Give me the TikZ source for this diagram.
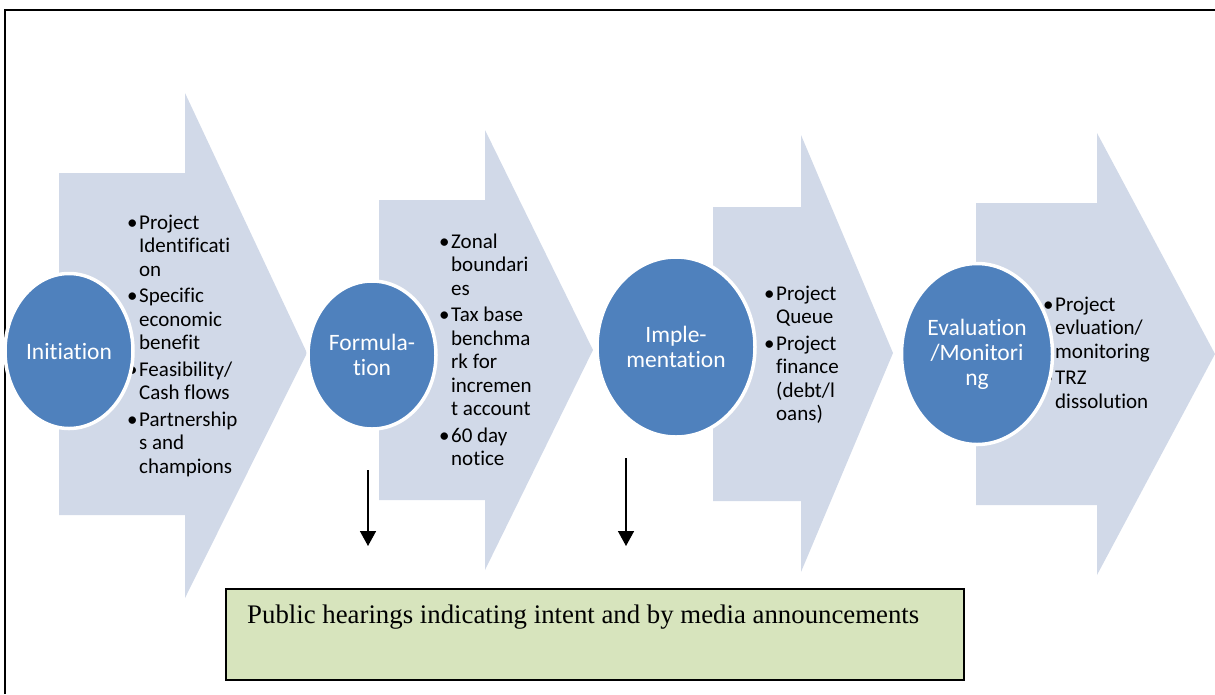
\documentclass[tikz,border=0pt]{standalone}
\usepackage{fontspec}
\setmainfont{Carlito}[Ligatures={NoCommon}]
\newfontfamily\hearfont{Liberation Serif}
\usetikzlibrary{shapes.geometric,arrows.meta}
\definecolor{arrowfill}{RGB}{209,217,232}
\definecolor{stageblue}{RGB}{79,129,189}
\definecolor{hearfill}{RGB}{215,228,189}
\tikzset{
  chevron/.style={fill=arrowfill, draw=none},
  stage/.style={ellipse, fill=stageblue, draw=white, line width=3.5pt, text=white,
    font=\fontsize{23.5}{25}\selectfont, align=center, inner sep=0pt},
  bullets/.style={anchor=north west, inner sep=0pt, font=\fontsize{21}{23.5}\selectfont},
  downarrow/.style={-{Triangle[length=15pt,width=16pt]}, line width=1.6pt},
  frame/.style={line width=2pt},
  hearbox/.style={draw=black, line width=1.6pt, fill=hearfill, inner sep=0pt,
    minimum width=738pt, minimum height=91pt, anchor=north west},
}
\newcommand{\bl}{\textbullet}
\begin{document}
\begin{tikzpicture}[x=1pt,y=-1pt]
\useasboundingbox (0,0) rectangle (1215,694);
% frame
\coordinate (fr1) at (5,694);
\coordinate (fr2) at (5,10);
\coordinate (fr3) at (1215,10);
\draw[frame] (fr1) -- (fr2) -- (fr3);
% chevrons
\fill[chevron] (59,173) -- (185,173) -- (185,93) -- (307,353) -- (185,598) -- (185,515) -- (59,515) -- cycle;
\fill[chevron] (379,200) -- (485,200) -- (485,130) -- (593,350) -- (485,570) -- (485,500) -- (379,500) -- cycle;
\fill[chevron] (713,207) -- (801,207) -- (801,135) -- (893,353) -- (801,572) -- (801,501) -- (713,501) -- cycle;
\fill[chevron] (976,203) -- (1097,203) -- (1097,133) -- (1215,354) -- (1097,575) -- (1097,505) -- (976,505) -- cycle;
% bullet texts
\node[bullets] (b1) at (127,212.5) {\begin{tabular}{@{}l@{\hspace{1.5pt}}l@{}}
\bl & Project\\ & Identificati\\ & on\\[3pt]
\bl & Specific\\ & economic\\ & benefit\\[3pt]
\bl & Feasibility/\\ & Cash flows\\[3pt]
\bl & Partnership\\ & s and\\ & champions
\end{tabular}};
\node[bullets] (b2) at (439,231.5) {\begin{tabular}{@{}l@{\hspace{1.5pt}}l@{}}
\bl & Zonal\\ & boundari\\ & es\\[3pt]
\bl & Tax base\\ & benchma\\ & rk for\\ & incremen\\ & t account\\[3pt]
\bl & 60 day\\ & notice
\end{tabular}};
\node[bullets] (b3) at (764,283.5) {\begin{tabular}{@{}l@{\hspace{1.5pt}}l@{}}
\bl & Project\\ & Queue\\[3pt]
\bl & Project\\ & finance\\ & (debt/l\\ & oans)
\end{tabular}};
\node[bullets] (b4) at (1043,294.5) {\begin{tabular}{@{}l@{\hspace{1.5pt}}l@{}}
\bl & Project\\ & evluation/\\ & monitoring\\[3pt]
\bl & TRZ\\ & dissolution
\end{tabular}};
% stage ellipses
\node[stage, minimum width=128pt, minimum height=155pt] (s1) at (69,351) {Initiation};
\node[stage, minimum width=128pt, minimum height=148pt] (s2) at (372,355) {Formula-\\tion};
\node[stage, minimum width=158pt, minimum height=180pt] (s3) at (676,347) {Imple-\\mentation};
\node[stage, minimum width=151pt, minimum height=181pt] (s4) at (977,354) {Evaluation\\/Monitori\\ng};
% down arrows
\coordinate (d1s) at (368,470);
\coordinate (d1e) at (368,546);
\coordinate (d2s) at (626,458);
\coordinate (d2e) at (626,546);
\draw[downarrow] (d1s) -- (d1e);
\draw[downarrow] (d2s) -- (d2e);
% hearings box
\node[hearbox] (hear) at (225,588) {};
\node[anchor=base west, inner sep=0pt, font=\hearfont\fontsize{26.8}{30}\selectfont] (heartext) at (247,623) {Public hearings indicating intent and by media announcements};
\end{tikzpicture}
\end{document}
